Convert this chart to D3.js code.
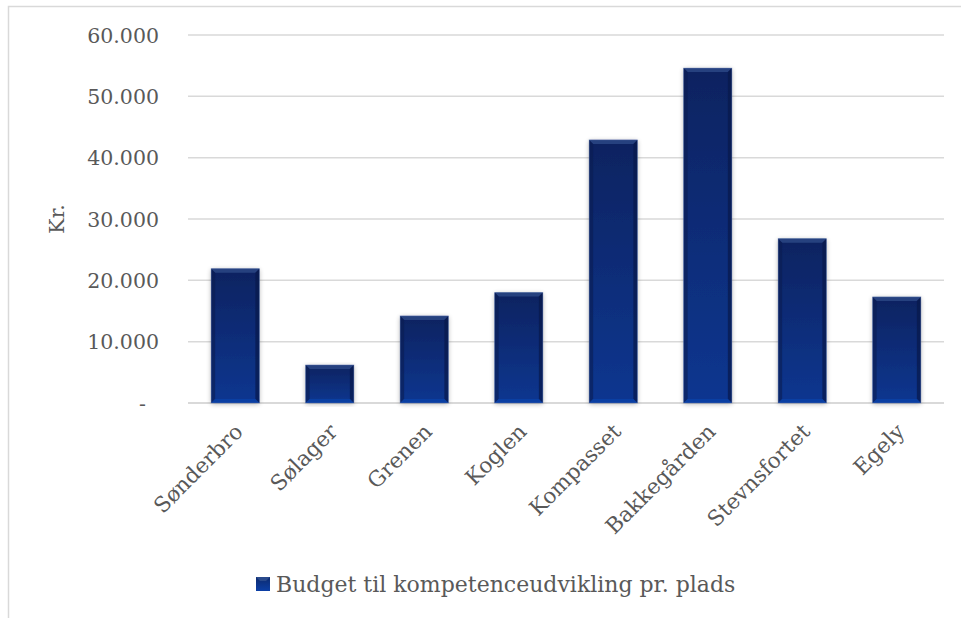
<!DOCTYPE html>
<html><head><meta charset="utf-8">
<script src="https://cdn.jsdelivr.net/npm/d3@7"></script>
<style>body{margin:0;background:#fff}svg{display:block}</style>
</head><body>
<svg id="c" width="961" height="618"></svg>
<script>
const categories = ["Sønderbro","Sølager","Grenen","Koglen","Kompasset","Bakkegården","Stevnsfortet","Egely"];
const values = [21900, 6200, 14200, 18000, 42900, 54600, 26800, 17300];
const yTicks = [0, 10000, 20000, 30000, 40000, 50000, 60000];
const tickLabels = ["-", "10.000", "20.000", "30.000", "40.000", "50.000", "60.000"];
const seriesName = "Budget til kompetenceudvikling pr. plads";
const yTitle = "Kr.";

const svg = d3.select("#c");
const FONT = "'DejaVu Serif', serif";
const TXT = "#595959";
const m = {left:188, right:944, top:35, bottom:403};

// chart border
svg.append("rect").attr("x",8.5).attr("y",6.5).attr("width",1000).attr("height",700)
  .attr("fill","none").attr("stroke","#d9d9d9").attr("stroke-width",1.5);

const x = d3.scaleBand().domain(categories).range([m.left, m.right]).paddingInner(0.49).paddingOuter(0.245);
const y = d3.scaleLinear().domain([0, 60000]).range([m.bottom, m.top]);

const defs = svg.append("defs");
const g1 = defs.append("linearGradient").attr("id","gBar").attr("x1",0).attr("y1",0).attr("x2",0).attr("y2",1);
g1.append("stop").attr("offset","0%").attr("stop-color","#0c2360");
g1.append("stop").attr("offset","100%").attr("stop-color","#0b3690");
const g2 = defs.append("linearGradient").attr("id","gIn").attr("x1",0).attr("y1",0).attr("x2",0).attr("y2",1);
g2.append("stop").attr("offset","0%").attr("stop-color","#0d2a6e");
g2.append("stop").attr("offset","100%").attr("stop-color","#0c3fa6");
const f = defs.append("filter").attr("id","sh").attr("x","-30%").attr("y","-10%").attr("width","160%").attr("height","120%");
f.append("feGaussianBlur").attr("in","SourceAlpha").attr("stdDeviation",2.5).attr("result","b");
f.append("feOffset").attr("in","b").attr("dx",0).attr("dy",1).attr("result","o");
f.append("feComponentTransfer").attr("in","o").attr("result","o2").append("feFuncA").attr("type","linear").attr("slope",0.3);
const fm = f.append("feMerge"); fm.append("feMergeNode").attr("in","o2"); fm.append("feMergeNode").attr("in","SourceGraphic");

// gridlines
svg.append("g").selectAll("line").data(yTicks).join("line")
  .attr("x1", m.left).attr("x2", m.right)
  .attr("y1", d => y(d)).attr("y2", d => y(d))
  .attr("stroke", "#d9d9d9").attr("stroke-width", d => d===0 ? 2 : 1.5);

// y axis labels via d3 axis
const yAxis = d3.axisLeft(y).tickValues(yTicks).tickSize(0).tickPadding(0)
  .tickFormat((d,i) => tickLabels[i]);
const ya = svg.append("g").attr("transform", `translate(159,0)`).call(yAxis);
ya.select(".domain").remove();
ya.selectAll("text").attr("font-family", FONT).attr("font-size", 20.5).attr("fill", TXT)
  .attr("dy","0.35em").attr("dx", (d) => d===0 ? -13 : 0);

// y title
svg.append("text").attr("transform","translate(64,219) rotate(-90)")
  .attr("text-anchor","middle").attr("font-family",FONT).attr("font-size",20.5).attr("fill",TXT).text(yTitle);

// bars
const bev = 4;
const bars = svg.append("g").selectAll("g").data(categories).join("g");
bars.each(function(c, i){
  const g = d3.select(this);
  const x0 = x(c), w = x.bandwidth(), y0 = y(values[i]), h = y(0) - y(values[i]);
  g.append("rect").attr("x",x0).attr("y",y0).attr("width",w).attr("height",h)
    .attr("fill","url(#gBar)").attr("filter","url(#sh)");
  const x1 = x0 + w, y1 = y0 + h;
  g.append("path").attr("d",`M${x0},${y0}L${x1},${y0}L${x1-bev},${y0+bev}L${x0+bev},${y0+bev}Z`).attr("fill","#2b4685").attr("opacity",0.85);
  g.append("path").attr("d",`M${x0},${y0}L${x0+bev},${y0+bev}L${x0+bev},${y1-bev}L${x0},${y1}Z`).attr("fill","#0a1d52").attr("opacity",0.6);
  g.append("path").attr("d",`M${x1},${y0}L${x1-bev},${y0+bev}L${x1-bev},${y1-bev}L${x1},${y1}Z`).attr("fill","#08184a").attr("opacity",0.7);
  g.append("path").attr("d",`M${x0},${y1}L${x0+bev},${y1-bev}L${x1-bev},${y1-bev}L${x1},${y1}Z`).attr("fill","#0a42a8").attr("opacity",0.8);
  g.append("rect").attr("x",x0).attr("y",y0).attr("width",w).attr("height",h)
    .attr("fill","none").attr("stroke","#5a74b0").attr("stroke-width",0.8).attr("opacity",0.5);
});

// x labels
const xAxis = d3.axisBottom(x).tickSize(0).tickPadding(0);
const xa = svg.append("g").attr("transform",`translate(0,${m.bottom})`).call(xAxis);
xa.select(".domain").remove();
xa.selectAll("text").attr("font-family",FONT).attr("font-size",21.5).attr("fill",TXT)
  .attr("text-anchor","end").attr("dy",0).attr("y",0)
  .attr("transform","translate(9,30) rotate(-45)");

// legend
const lg = svg.append("g").attr("transform","translate(256,577)");
lg.append("rect").attr("width",14).attr("height",14).attr("fill","url(#gIn)");
lg.append("path").attr("d","M0,0L14,0L10,4L4,4Z").attr("fill","#2a4a8c");
lg.append("text").attr("x",20).attr("y",15).attr("font-family",FONT).attr("font-size",22).attr("fill",TXT).text(seriesName);
</script>
</body></html>
